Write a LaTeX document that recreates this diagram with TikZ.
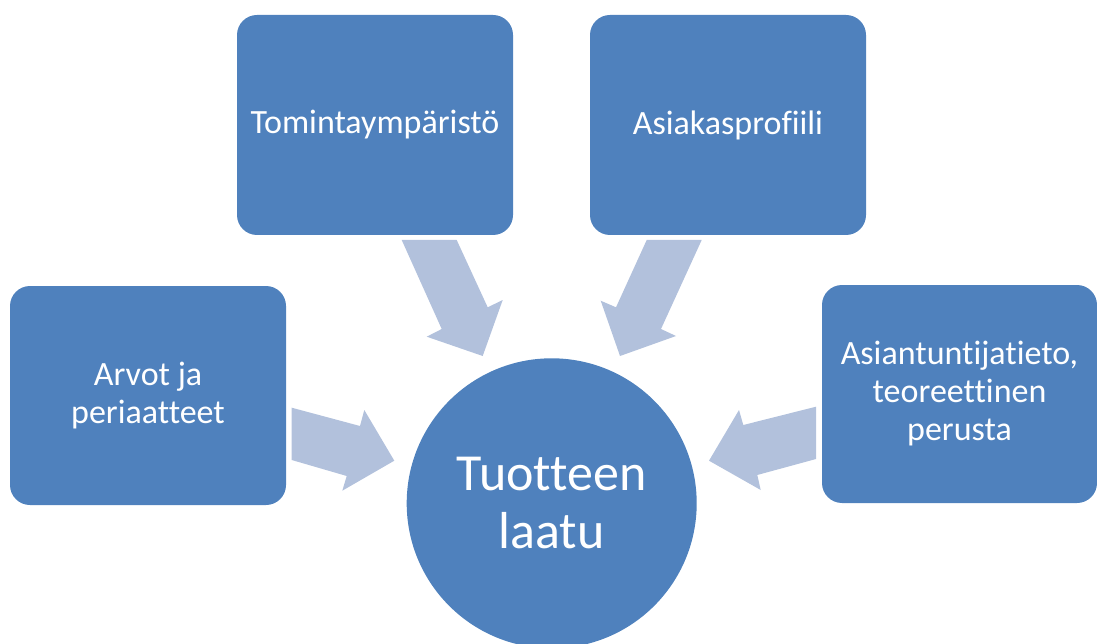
\documentclass[tikz,border=0pt]{standalone}
\usepackage{fontspec}
\setmainfont{Carlito}[Ligatures=NoCommon]
\definecolor{boxblue}{HTML}{4F81BD}
\definecolor{arrowblue}{HTML}{B2C1DC}
\begin{document}
\begin{tikzpicture}[x=1pt,y=-1pt,
  box/.style={draw=none,fill=boxblue,rounded corners=20pt,minimum width=276pt,minimum height=220pt,text=white,align=center,inner sep=0pt},
  topfont/.style={font=\fontsize{34}{40}\selectfont},
  sidefont/.style={font=\fontsize{34}{38}\selectfont},
  blockarrow/.style={fill=arrowblue,draw=none}]
\useasboundingbox (0,0) rectangle (1097,644);
% block arrows
\path[blockarrow] (291.7,407.7) -- (360,426) -- (364.3,410) -- (394.3,460.7) -- (342.3,490.7) -- (346.7,476) -- (291.7,460) -- cycle;
\path[blockarrow] (401.7,240) -- (456.7,240) -- (487.7,307.3) -- (502.7,300) -- (482.7,356) -- (426.7,336.7) -- (441.7,329) -- cycle;
\path[blockarrow] (646.7,240) -- (701.7,240) -- (661,329) -- (676,336) -- (620,356) -- (600.7,300.7) -- (616,307.3) -- cycle;
\path[blockarrow] (816,406.7) -- (743.3,425) -- (739,410) -- (709,460.7) -- (760.7,490) -- (757.3,475) -- (816,459) -- cycle;
% boxes
\node[box,topfont] (toim) at (375,125) {Tomintaympäristö};
\node[box,topfont] (asiak) at (728,125) {Asiakasprofiili};
\node[box,sidefont,minimum height=219pt] (arvot) at (148,395.5) {Arvot ja\\periaatteet};
\node[box,sidefont,minimum width=275pt,minimum height=218pt] (asiant) at (959.5,394) {Asiantuntijatieto,\\teoreettinen\\perusta};
% centre circle
\node[circle,fill=boxblue,draw=none,minimum size=290pt,inner sep=0pt,text=white,align=center,font=\fontsize{52}{58}\selectfont] (laatu) at (551.7,503.3) {Tuotteen\\laatu};
\end{tikzpicture}
\end{document}
